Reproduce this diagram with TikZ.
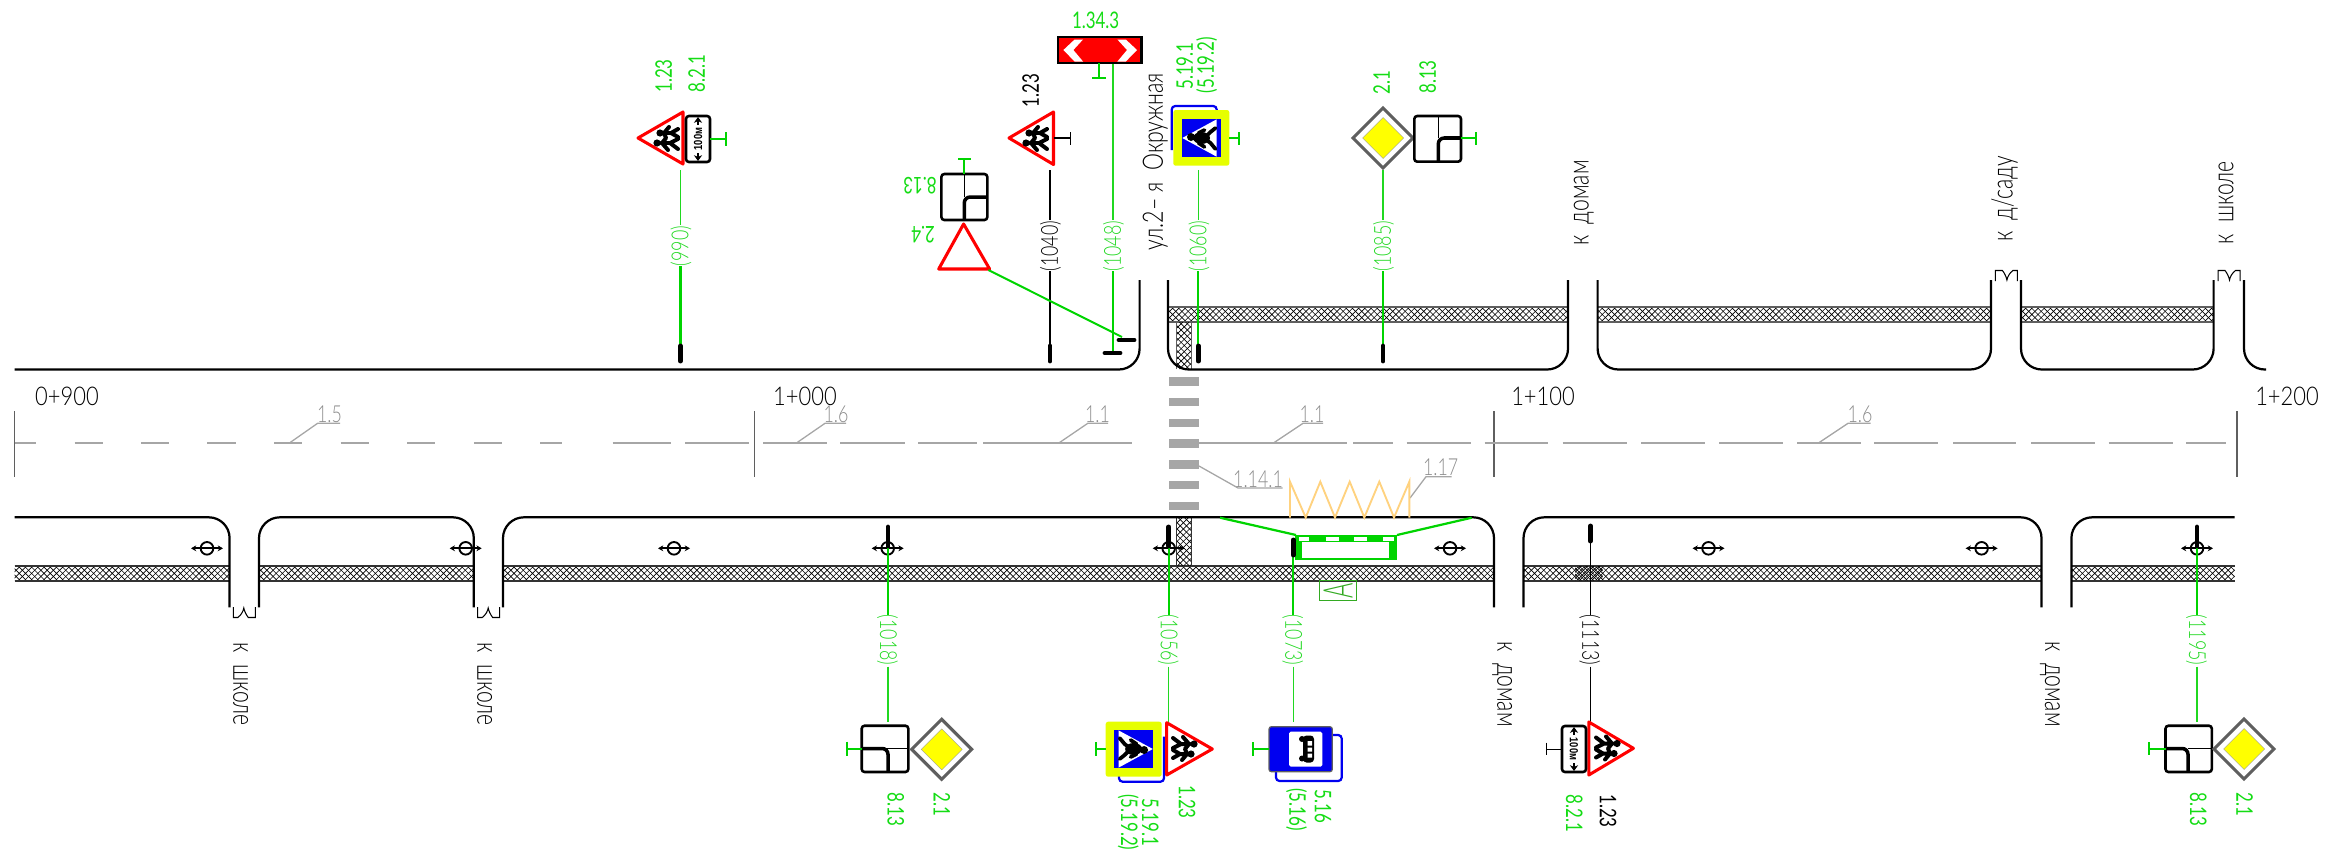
\documentclass[tikz,border=0pt]{standalone}
\usepackage{fontspec}
\usetikzlibrary{arrows.meta}
\newfontfamily\cad[FakeStretch=0.76]{Lato Light}
\newfontfamily\cadg[FakeStretch=0.74]{Lato}
\newfontfamily\cadw[FakeStretch=0.85]{Lato Light}
\newfontfamily\cadt[FakeStretch=0.72]{Lato Light}
\newfontfamily\cadb[FakeStretch=0.8]{Liberation Sans}
\definecolor{sgreen}{HTML}{00D400}
\definecolor{tgreen}{HTML}{14DC14}
\definecolor{lgreen}{HTML}{20D820}
\definecolor{mgray}{HTML}{A6A6A6}
\definecolor{dgray}{HTML}{5F5F5F}
\definecolor{zig}{HTML}{FFD27F}
\definecolor{sblue}{HTML}{0000F0}
\definecolor{syellow}{HTML}{FFFF00}
\definecolor{lyellow}{HTML}{E6FF00}
\definecolor{adark}{HTML}{33AA22}
\tikzset{
  x=0.03cm,y=-0.03cm,
  lab/.style={font=\cadg\fontsize{19.5}{20}\selectfont,inner sep=0pt,text height=13.6pt,text depth=0pt,align=center},
  glab/.style={lab,text=tgreen},
  blab/.style={lab,text=black},
  mlab/.style={lab,font=\cad\fontsize{20}{21}\selectfont,text height=14.2pt,text=mgray!85!black},
  stat/.style={font=\cadw\fontsize{22}{24}\selectfont,inner sep=0pt,text height=16pt,text depth=0pt,text=black},
  road/.style={draw=black,line width=1.9pt,rounded corners=17.8pt},
  pole/.style={line width=1.9pt},
  thinpole/.style={line width=1pt},
  tick/.style={black,line width=4.2pt,line cap=round},
  stem/.style={line width=1.7pt},
  axis/.style={draw=mgray,line width=2pt},
  lead/.style={draw=mgray,line width=1.1pt},
  km/.style={draw=dgray,line width=1.1pt},
  redtri/.style={draw=red,fill=white,line width=2.6pt,line join=round},
  bsign/.style={draw=black,fill=white,line width=2.2pt,rounded corners=2.5pt},
  thinin/.style={draw=black,line width=.9pt},
  boldin/.style={draw=black,line width=3pt,rounded corners=5pt},
  kids/.pic={
    \fill[black] (-5,-10) circle (3.6) (5,-7) circle (3.6);
    \draw[black,line width=3.4pt,line cap=round,line join=round]
      (-5,-6)--(-5,3)--(-11,11) (-5,3)--(-1,11) (-5,-5)--(-12,1) (-5,-5)--(0,-1)--(5,-3)
      (5,-3)--(5,4)--(1,11) (5,4)--(9,11) (5,-3)--(11,2);
  },
  xwalk/.pic={
    \fill[sblue] (-19.2,-19.2) rectangle (19.2,19.2);
    \fill[white] (0,-19.2)--(18.6,15)--(-18.6,15)--cycle;
    \fill[black] (1,-10.5) circle (4);
    \fill[black] (0,0) ellipse (6 and 8.5);
    \draw[black,line width=3.2pt,line cap=round,line join=round]
      (-2,5)--(-5,9)--(-11,14) (2,5)--(6,9)--(10,14) (-5,-3)--(-9,3) (5,-3)--(8,3);
  },
  plate/.pic={
    \draw[bsign] (-23,-12) rectangle (23,12);
    \node[font=\cadb\bfseries\fontsize{10}{11}\selectfont,inner sep=0pt,transform shape] (t) at (0,0) {100м};
    \draw[black,line width=2.4pt,-{Stealth[length=5pt,width=7pt]}] (-14,0)--(-22,0);
    \draw[black,line width=2.4pt,-{Stealth[length=5pt,width=7pt]}] (14,0)--(22,0);
  },
  lamp/.pic={
    \draw[black,line width=1.6pt] (0,0) circle (6.3);
    \draw[black,line width=1.5pt,{Stealth[length=4.5pt,width=5pt]}-{Stealth[length=4.5pt,width=5pt]}] (-16,0)--(16,0);
  },
  brk/.pic={
    \draw[black,line width=.9pt] (-11,0)--(-11,10.5)--(-6.5,10.5) .. controls (-3,8) and (-1,4) .. (-.5,1) .. controls (0,4) and (2,8) .. (4,10.5)--(11,10.5)--(11,0);
  },
}
% diagonal cross hatching clipped to a rectangle
\newcommand\hatchbox[4]{%
  \begin{scope}
    \clip (#1,#2) rectangle (#3,#4);
    \pgfmathsetmacro\hd{#4-#2}
    \pgfmathtruncatemacro\hn{(#3-#1+\hd)/6.2}
    \foreach \k in {0,...,\hn}{%
      \pgfmathsetmacro\ha{#1-\hd+\k*6.2}
      \draw[black,line width=.55pt] (\ha,#4)--++(\hd,-\hd) (\ha,#2)--++(\hd,\hd);
    }
  \end{scope}}
\newcommand\band[5]{% x1 y1 x2 y2 colour
  \hatchbox{#1}{#2}{#3}{#4}
  \draw[#5,line width=1.5pt] (#1,#2)--(#3,#2) (#1,#4)--(#3,#4);}
% posts: name, x, text, colour, far end of the thin part
\newcommand\upost[5]{%
  \node[lab,font=\cad\fontsize{20}{21}\selectfont,text=#4,rotate=90] (#1) at (#2,246) {#3};
  \coordinate (#1f) at (#2,#5);
  \draw[thinpole,draw=#4] (#1.east)++(0,-1) -- (#1f);}
\newcommand\lpost[5]{%
  \node[lab,font=\cad\fontsize{20}{21}\selectfont,text=#4,rotate=-90] (#1) at (#2,640) {#3};
  \coordinate (#1f) at (#2,#5);
  \draw[thinpole,draw=#4] (#1.east)++(0,1) -- (#1f);}
\newcommand\dmnd[2]{%
  \path[draw=dgray,fill=white,line width=2.6pt] (#1-30,#2)--(#1,#2-30)--(#1+30,#2)--(#1,#2+30)--cycle;
  \fill[syellow,draw=black!40,line width=.3pt] (#1-20.5,#2)--(#1,#2-20.5)--(#1+20.5,#2)--(#1,#2+20.5)--cycle;}
\begin{document}
\begin{tikzpicture}
\useasboundingbox (0,0) rectangle (2333,856);
% hatched bands
\band{1168}{306.7}{1568}{322.3}{dgray}
\band{1597.6}{306.7}{1991}{322.3}{dgray}
\band{2021}{306.7}{2213.6}{322.3}{dgray}
\hatchbox{1176.7}{322}{1191.7}{369}
\draw[dgray,line width=.9pt] (1176.7,322)--(1176.7,369) (1191.7,322)--(1191.7,369);
\band{14.5}{565.7}{229.6}{581}{black!80}
\band{259}{565.7}{473.8}{581}{black!80}
\band{503}{565.7}{1494}{581}{black!80}
\band{1523.5}{565.7}{2041.5}{581}{black!80}
\band{2071.4}{565.7}{2234.6}{581}{black!80}
\hatchbox{1176.7}{517}{1191.7}{565.7}
\draw[black!80,line width=.9pt] (1176.7,517)--(1176.7,565.7) (1191.7,517)--(1191.7,565.7);
\begin{scope}[xshift=0.08cm]\hatchbox{1572.5}{566}{1600}{580.5}\end{scope}
% road edges, upper side
\draw[road] (14.5,369.5)--(1139.6,369.5)--(1139.6,280);
\draw[road] (1168,280)--(1168,369.5)--(1568,369.5)--(1568,280);
\draw[road] (1597.6,280)--(1597.6,369.5)--(1991,369.5)--(1991,280);
\draw[road] (2021,280)--(2021,369.5)--(2213.6,369.5)--(2213.6,280);
\draw[road] (2244,280)--(2244,369.5)--(2266,369.5);
% road edges, lower side
\draw[road] (14.5,517.3)--(229.6,517.3)--(229.6,607.3);
\draw[road] (259,607.3)--(259,517.3)--(473.8,517.3)--(473.8,607.3);
\draw[road] (503,607.3)--(503,517.3)--(1494,517.3)--(1494,607.3);
\draw[road] (1523.5,607.3)--(1523.5,517.3)--(2041.5,517.3)--(2041.5,607.3);
\draw[road] (2071.4,607.3)--(2071.4,517.3)--(2234.6,517.3);
% break marks
\pic at (244.3,607) {brk};
\pic at (488.7,607) {brk};
\pic[rotate=180] at (2006.4,281) {brk};
\pic[rotate=180] at (2229,281) {brk};
% chainage ticks
\draw[km] (14.5,411)--(14.5,476.7);
\draw[km] (754.7,411)--(754.7,476.7);
\draw[km] (1494,411)--(1494,476.7);
\draw[km] (2237,411)--(2237,476.7);
\node[stat] (k0) at (67,396) {0+900};
\node[stat] (k1) at (805,396) {1+000};
\node[stat] (k2) at (1543,396) {1+100};
\node[stat] (k3) at (2287,396) {1+200};
% axis dashes
\foreach \a/\b in {14.5/36,74.6/102.6,140.8/168.8,207/235.7,274/302,340.6/369,407/435,473.8/501.7,540/562.4,612.7/671.4,685/749,763/826.5,840.4/904.5,918.4/977,983/1132,1199/1346.7,1353/1392.7,1406.7/1470.7,1484.7/1548.3,1562.7/1627,1641/1705,1719/1783,1797/1860.5,1874/1938,1953/2016,2031/2095,2108.5/2172.5,2186/2226}
  \draw[axis] (\a,443.3)--(\b,443.3);
% crosswalk
\foreach \c in {381.5,402,422.7,443.3,464.3,485,505.7}
  \fill[mgray] (1169,\c-4.2) rectangle (1199,\c+4.2);
% marking leaders
\node[mlab] (m15) at (329.5,414) {1.5};
\draw[lead] (289,443.3)--(317.6,423.3)--(340,423.3);
\node[mlab] (m16a) at (836,414) {1.6};
\draw[lead] (796,443.3)--(825,423.3)--(846,423.3);
\node[mlab] (m11a) at (1097.5,414) {1.1};
\draw[lead] (1058.4,443.3)--(1087.8,423.3)--(1108,423.3);
\node[mlab] (m11b) at (1312,414) {1.1};
\draw[lead] (1273,443.3)--(1303,423.3)--(1323,423.3);
\node[mlab] (m16b) at (1860,414) {1.6};
\draw[lead] (1818,443.3)--(1848,423.3)--(1870.7,423.3);
\node[mlab] (m114) at (1258,479) {1.14.1};
\draw[lead] (1199,466)--(1238,488)--(1282.7,488);
\node[mlab] (m117) at (1440.7,467) {1.17};
\draw[lead] (1410,498)--(1426,476.7)--(1451.7,476.7);
% zigzag
\draw[zig,line width=1.6pt,line join=miter] (1290,517.5)--(1290,481.7)--(1305.7,517.5)--(1320.3,481.7)--(1335,517.5)--(1349.7,481.7)--(1364.3,517.5)--(1379.3,481.7)--(1394,517.5)--(1409.3,481.7)--(1409.3,517.5);
% bus stop
\draw[sgreen,line width=1.9pt] (1220,517.7)--(1296,535);
\draw[sgreen,line width=1.9pt] (1397,535)--(1471.7,517.7);
\fill[sgreen] (1295,535) rectangle (1396.7,560);
\fill[white] (1302.3,542.3) rectangle (1389.3,558);
\foreach \a/\b in {1299/1309,1326/1339,1354/1367,1383/1394}
  \fill[white] (\a,537) rectangle (\b,541);
\draw[adark,line width=.9pt] (1319.3,580.7) rectangle (1356.7,600.7);
\node[font=\cad\fontsize{35}{36}\selectfont,text=adark,inner sep=0pt,rotate=90] (aa) at (1338,590.7) {\scalebox{.75}[1]{A}};
% lamps
\foreach \x in {207,465.7,674,887.7,1168.7,1450,1708.5,1981.6,2197}
  \pic at (\x,548.3) {lamp};
% upper labels and posts
\node[blab,font=\cad\fontsize{24}{26}\selectfont,text height=17pt,rotate=90] (road) at (1153,161.5) {ул.2– я\ \ Окружная};
\node[blab,font=\cadt\fontsize{25}{26}\selectfont,text height=18pt,rotate=90] (u1) at (1578,203) {к\ \ домам};
\node[blab,font=\cadt\fontsize{25}{26}\selectfont,text height=18pt,rotate=90] (u2) at (2002,199) {к\ \ д/саду};
\node[blab,font=\cadt\fontsize{25}{26}\selectfont,text height=18pt,rotate=90] (u3) at (2222.7,203) {к\ \ школе};
\node[blab,font=\cadt\fontsize{25}{26}\selectfont,text height=18pt,rotate=-90] (d1) at (243.8,684) {к\ \ школе};
\node[blab,font=\cadt\fontsize{25}{26}\selectfont,text height=18pt,rotate=-90] (d2) at (488,684) {к\ \ школе};
\node[blab,font=\cadt\fontsize{25}{26}\selectfont,text height=18pt,rotate=-90] (d3) at (1508,684) {к\ \ домам};
\node[blab,font=\cadt\fontsize{25}{26}\selectfont,text height=18pt,rotate=-90] (d4) at (2055.6,684) {к\ \ домам};
% post 990
\upost{p990}{680.4}{(990)}{lgreen}{170}
\draw[pole,sgreen] (p990.west)--(680.4,346);
\draw[tick] (680.4,346)--(680.4,361);
\draw[redtri] (638,138)--(683,112)--(683,164)--cycle;
\pic[rotate=90] at (667,138) {kids};
\pic[rotate=90] at (698,139) {plate};
\draw[stem,sgreen] (710,139)--(726,139) (726,132)--(726,146);
\node[glab,rotate=90] (s1) at (664,76) {1.23};
\node[glab,rotate=90] (s2) at (697,73.5) {8.2.1};
% post 1040
\upost{p1040}{1050}{(1040)}{black}{170}
\draw[pole,black,line width=1.2pt] (p1040.west)--(1050,346);
\draw[tick] (1050,346)--(1050,361);
\draw[redtri] (1009,138)--(1053.5,112)--(1053.5,164.5)--cycle;
\pic[rotate=90] at (1036,138) {kids};
\draw[stem,black,line width=1pt] (1054,138)--(1070.7,138) (1070.7,132)--(1070.7,145);
\node[blab,rotate=90] (s3) at (1031,90.5) {1.23};
% post 1048
\upost{p1048}{1113}{(1048)}{lgreen}{63}
\draw[pole,sgreen] (p1048.west)--(1113,353);
\draw[tick] (1105,353)--(1120,353);
\path[draw=black,fill=red,line width=1.9pt] (1058,37) rectangle (1141.5,63);
\fill[white] (1063.4,50)--(1074.6,39.5)--(1083,39.5)--(1073.4,50)--(1083,61.5)--(1074.6,61.5)--cycle;
\fill[white] (1137,50)--(1125.8,39.5)--(1117.4,39.5)--(1127,50)--(1117.4,61.5)--(1125.8,61.5)--cycle;
\draw[stem,sgreen] (1099.4,63)--(1099.4,78) (1092,78)--(1106,78);
\node[glab] (s4) at (1095.6,21) {1.34.3};
% sign 2.4 and 8.13 on the side street
\draw[tick] (1119,340)--(1134,340);
\draw[redtri] (963.6,224)--(989.6,269)--(938.7,269)--cycle;
\draw[pole,sgreen,line width=1.7pt] (988.4,270)--(1122,337);
\draw[bsign] (941.4,174) rectangle (987.3,220);
\draw[thinin] (964.3,174)--(964.3,197);
\draw[boldin] (964.3,220)--(964.3,197)--(987.3,197);
\draw[stem,sgreen] (964.3,174)--(964.3,159) (958,159)--(971,159);
\node[glab,rotate=180] (s5) at (920,185) {8.13};
\node[glab,rotate=180] (s6) at (923,234) {2.4};
% post 1060
\upost{p1060}{1198.3}{(1060)}{lgreen}{170}
\draw[pole,sgreen] (p1060.west)--(1198.3,346);
\draw[tick] (1198.3,346)--(1198.3,361);
\draw[draw=sblue,line width=1.9pt,rounded corners=3pt] (1171.7,150)--(1171.7,106)--(1216.7,106)--(1216.7,125);
\fill[lyellow,rounded corners=2pt] (1173.3,110) rectangle (1229.3,165.7);
\pic[rotate=90] at (1201.5,138) {xwalk};
\draw[stem,sgreen] (1229.3,138)--(1239.3,138) (1239.3,132)--(1239.3,145);
\node[glab,rotate=90] (s7) at (1185,66) {5.19.1};
\node[glab,rotate=90] (s8) at (1206,65) {(5.19.2)};
% post 1085
\upost{p1085}{1383}{(1085)}{lgreen}{170}
\draw[pole,sgreen] (p1085.west)--(1383,346);
\draw[tick] (1383,346)--(1383,361);
\dmnd{1383}{138}
\draw[bsign] (1414.3,116) rectangle (1461,161.7);
\draw[thinin] (1438.3,116)--(1438.3,138);
\draw[boldin] (1438.3,161.7)--(1438.3,138)--(1461,138);
\draw[stem,sgreen] (1461,138)--(1476,138) (1476,132)--(1476,145);
\node[glab,rotate=90] (s9) at (1382,82.5) {2.1};
\node[glab,rotate=90] (s10) at (1428,77) {8.13};
% post 1018
\lpost{p1018}{888}{(1018)}{lgreen}{721.7}
\draw[pole,sgreen] (888,548)--(p1018.west);
\draw[tick] (888,527)--(888,546);
\draw[bsign] (861.7,725.7) rectangle (908.3,772);
\draw[thinin] (885,748.5)--(908.3,748.5);
\draw[boldin] (861.7,748.5)--(888,748.5)--(888,772);
\draw[stem,sgreen] (861.7,748.5)--(847,748.5) (847,741.7)--(847,755.7);
\dmnd{941.7}{749.3}
\node[glab,rotate=-90] (s11) at (895.7,809.5) {8.13};
\node[glab,rotate=-90] (s12) at (941.7,804) {2.1};
% post 1056
\lpost{p1056}{1168.7}{(1056)}{lgreen}{723}
\draw[pole,sgreen] (1168.7,548)--(p1056.west);
\draw[tick] (1168.7,527)--(1168.7,546);
\draw[draw=sblue,line width=1.9pt,rounded corners=3pt] (1164,736.7)--(1164,781.7)--(1119,781.7)--(1119,770);
\fill[lyellow,rounded corners=2pt] (1105.7,721.7) rectangle (1161.7,776.7);
\pic[rotate=-90] at (1133.6,749) {xwalk};
\draw[stem,sgreen] (1105.7,749)--(1095.7,749) (1095.7,742)--(1095.7,755.7);
\draw[redtri] (1212.3,749)--(1166.7,775)--(1166.7,722.7)--cycle;
\pic[rotate=-90] at (1184,749) {kids};
\node[glab,rotate=-90] (s13) at (1150,822.3) {5.19.1};
\node[glab,rotate=-90] (s14) at (1129,822.2) {(5.19.2)};
\node[glab,rotate=-90] (s15) at (1186.7,802) {1.23};
% post 1073
\lpost{p1073}{1293.3}{(1073)}{lgreen}{721.7}
\draw[pole,sgreen] (1293.3,556)--(p1073.west);
\draw[tick] (1293.3,540)--(1293.3,555);
\draw[draw=sblue,line width=1.9pt,rounded corners=3pt] (1325,735)--(1341.7,735)--(1341.7,781)--(1276,781)--(1276,765);
\path[draw=dgray,fill=sblue,line width=1pt,rounded corners=2pt] (1269,726.7) rectangle (1332.3,771.7);
\fill[white,rounded corners=1.5pt] (1289,731.7) rectangle (1322.3,766.7);
\fill[black,rounded corners=3pt] (1303,735.5) rectangle (1314,762.5);
\fill[black] (1302,739) circle (3) (1302,758.5) circle (3);
\fill[white] (1307.5,741) rectangle (1312,745.5) (1307.5,747.5) rectangle (1312,751.5) (1307.5,753.5) rectangle (1312,757.5);
\draw[stem,sgreen] (1269,749)--(1253.3,749) (1253.3,742)--(1253.3,755.7);
\node[glab,rotate=-90] (s16) at (1322.7,806.2) {5.16};
\node[glab,rotate=-90] (s17) at (1297.3,809.3) {(5.16)};
% post 1113
\lpost{p1113}{1590.4}{(1113)}{black}{722}
\draw[thinpole,black] (1590.4,543)--(p1113.west);
\draw[tick] (1590.4,526)--(1590.4,541);
\draw[redtri] (1633.4,748.3)--(1588.8,775)--(1588.8,722)--cycle;
\pic[rotate=-90] at (1607,748.5) {kids};
\pic[rotate=-90] at (1574,749) {plate};
\draw[stem,black,line width=.8pt] (1561.6,749)--(1546.4,749) (1546.4,742.7)--(1546.4,755);
\node[blab,rotate=-90] (s18) at (1607.9,811) {1.23};
\node[glab,rotate=-90] (s19) at (1574,813.5) {8.2.1};
% post 1195
\lpost{p1195}{2197}{(1195)}{lgreen}{722}
\draw[pole,sgreen] (2197,548)--(p1195.west);
\draw[tick] (2197,527)--(2197,546);
\draw[bsign] (2165.5,725.7) rectangle (2211.8,772);
\draw[thinin] (2188,748.5)--(2211.8,748.5);
\draw[boldin] (2165.5,748.5)--(2188,748.5)--(2188,772);
\draw[stem,sgreen] (2165.5,748.5)--(2149,748.5) (2149,742)--(2149,755);
\dmnd{2244}{749}
\node[glab,rotate=-90] (s20) at (2198,809.5) {8.13};
\node[glab,rotate=-90] (s21) at (2244.4,804) {2.1};
\end{tikzpicture}
\end{document}
